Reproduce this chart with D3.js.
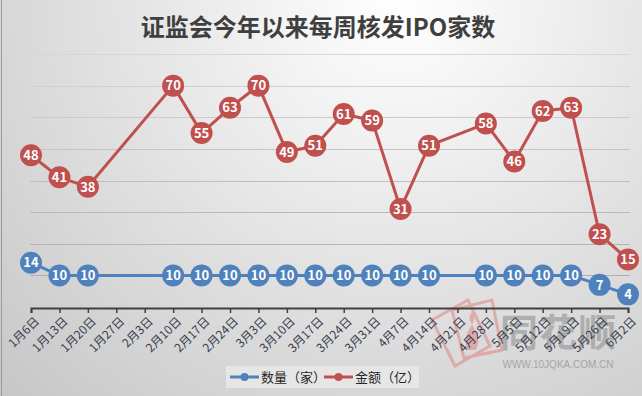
<!DOCTYPE html>
<html lang="zh">
<head>
  <meta charset="UTF-8" />
  <title>证监会今年以来每周核发IPO家数</title>
  <script src="https://d3js.org/d3.v7.min.js"></script>
  <style>
    body { margin: 0; background: #fff; }
    svg { display: block; font-family: 'Noto Sans CJK SC', 'Noto Sans', sans-serif; }
    .lbl { fill: #fff; font-weight: bold; font-size: 13px; pointer-events: none; }
  </style>
</head>
<body>
<div id="chart"></div>
<script>
  const weeks = ["1月6日","1月13日","1月20日","1月27日","2月3日","2月10日","2月17日","2月24日",
    "3月3日","3月10日","3月17日","3月24日","3月31日","4月7日","4月14日","4月21日",
    "4月28日","5月5日","5月12日","5月19日","5月26日","6月2日"];
  // null = no issuance that week
  const counts = [14,10,10,null,null,10,10,10,10,10,10,10,10,10,10,null,10,10,10,10,7,4];
  const amounts = [48,41,38,null,null,70,55,63,70,49,51,61,59,31,51,null,58,46,62,63,23,15];
  const gridTicks = [0,10,20,30,40,50,60,70,80];

  const W = 642, H = 396;
  const svg = d3.select("#chart").append("svg").attr("width", W).attr("height", H);

  // background
  const defs = svg.append("defs");
  const bg = defs.append("radialGradient").attr("id", "bg")
    .attr("cx", "62%").attr("cy", "0%").attr("r", "95%")
    .attr("gradientTransform", "translate(0.62,0) scale(1,1.6) translate(-0.62,0)");
  bg.append("stop").attr("offset", "0%").attr("stop-color", "#ffffff");
  bg.append("stop").attr("offset", "100%").attr("stop-color", "#c2c2c2");
  svg.append("rect").attr("width", W).attr("height", H).attr("fill", "url(#bg)");

  // left edge artifact
  svg.append("line").attr("x1", 1.5).attr("x2", 1.5).attr("y1", 0).attr("y2", H)
    .attr("stroke", "#9a9a9a").attr("stroke-width", 1);

  svg.append("text").attr("x", 318).attr("y", 36)
    .attr("text-anchor", "middle").attr("font-size", 24).attr("font-weight", "bold")
    .attr("fill", "#3f3f3f").text("证监会今年以来每周核发IPO家数");

  const x = d3.scalePoint().domain(weeks).range([31, 628]);
  const y = d3.scaleLinear().domain([0, 80]).range([307, 54]);
  const gridColor = d3.scaleLinear().domain([80, 0]).range(["#d6d6d6", "#a8a8a8"]);

  svg.append("g").selectAll("line").data(gridTicks.filter(d => d > 0)).join("line")
    .attr("x1", 30).attr("x2", 630)
    .attr("y1", d => Math.round(y(d)) + 0.5).attr("y2", d => Math.round(y(d)) + 0.5)
    .attr("stroke", d => gridColor(d)).attr("stroke-width", 1.2);

  // watermark
  const wm = svg.append("g").attr("opacity", 0.45);
  wm.append("path")
    .attr("d", "M432,320 L468,300 L490,346 L455,366 Z M452,310 L492,300 L502,350 L464,358 Z")
    .attr("fill", "none").attr("stroke", "#e07070").attr("stroke-width", 3);
  wm.append("path").attr("d", "M468,350 C458,332 482,322 472,312 C462,322 486,332 476,350 Z")
    .attr("fill", "#e07070");
  wm.append("text").attr("x", 558).attr("y", 346).attr("text-anchor", "middle")
    .attr("font-size", 38).attr("font-weight", "bold").attr("fill", "#7a7a7a")
    .attr("textLength", 116).text("同花顺");
  wm.append("text").attr("x", 558).attr("y", 368).attr("text-anchor", "middle")
    .attr("font-size", 10).attr("fill", "#6a6a6a").attr("font-family", "Arial, 'Liberation Sans'")
    .text("WWW.10JQKA.COM.CN");

  // x axis
  const axis = svg.append("g").attr("transform", "translate(0,308)")
    .call(d3.axisBottom(x).tickSize(5).tickSizeOuter(5).tickFormat(""));
  axis.select(".domain").attr("stroke", "#404040").attr("stroke-width", 2);
  axis.selectAll(".tick line").attr("stroke", "#404040").attr("stroke-width", 1.5);

  svg.append("g").selectAll("text").data(weeks).join("text")
    .attr("transform", d => `translate(${x(d) + 6},${319}) rotate(-45)`)
    .attr("text-anchor", "end").attr("dy", "0.35em")
    .attr("font-size", 12).attr("fill", "#3a3f50").text(d => d);

  const series = [
    { name: "数量（家）", values: counts, color: "#4f81bd" },
    { name: "金额（亿）", values: amounts, color: "#c0504d" }
  ];

  const line = d3.line().x(d => x(d.week)).y(d => y(d.v));

  series.forEach(s => {
    const pts = weeks.map((w, i) => ({ week: w, v: s.values[i] })).filter(d => d.v != null);
    svg.append("path").datum(pts).attr("d", line)
      .attr("fill", "none").attr("stroke", s.color).attr("stroke-width", 3)
      .attr("stroke-linejoin", "round");
    const g = svg.append("g").selectAll("g").data(pts).join("g")
      .attr("transform", d => `translate(${x(d.week)},${y(d.v)})`);
    g.append("circle").attr("r", 11).attr("fill", s.color);
    g.append("text").attr("class", "lbl").attr("text-anchor", "middle").attr("dy", "0.36em")
      .text(d => d.v);
  });

  // legend
  const lg = svg.append("g");
  lg.append("rect").attr("x", 226).attr("y", 366).attr("width", 193).attr("height", 22)
    .attr("fill", "#e6e6e6");
  const items = lg.selectAll("g").data(series).join("g")
    .attr("transform", (d, i) => `translate(${230 + i * 94},377)`);
  items.append("line").attr("x1", 0).attr("x2", 29).attr("stroke", d => d.color).attr("stroke-width", 3);
  items.append("circle").attr("cx", 14.5).attr("r", 4).attr("fill", d => d.color);
  items.append("text").attr("x", 31).attr("dy", "0.36em").attr("font-size", 13)
    .attr("fill", "#262626").text(d => d.name);
</script>
</body>
</html>
